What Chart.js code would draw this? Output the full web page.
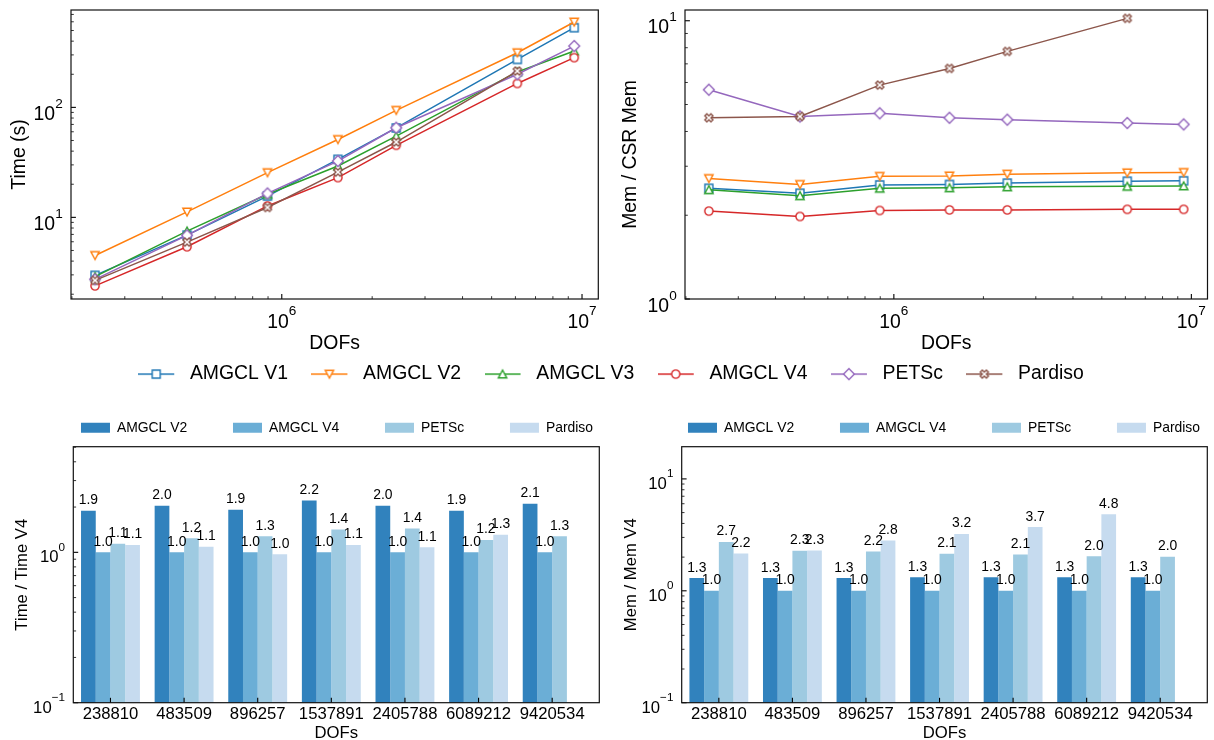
<!DOCTYPE html>
<html>
<head>
<meta charset="utf-8">
<title>AMGCL vs PETSc vs Pardiso</title>
<script src="https://cdn.jsdelivr.net/npm/chart.js@4.4.1/dist/chart.umd.min.js"></script>
<style>
  html, body { margin: 0; padding: 0; background: #fff; overflow: hidden; }
  #fig { position: relative; width: 1214px; height: 740px; overflow: hidden; background: #fff; }
  #fig canvas { position: absolute; }
</style>
</head>
<body>
<div id="fig">
  <canvas id="timeChart" width="610" height="360" style="left:0;top:0"></canvas>
  <canvas id="memChart" width="604" height="360" style="left:610px;top:0"></canvas>
  <canvas id="timeRatioChart" width="610" height="305" style="left:0;top:440px"></canvas>
  <canvas id="memRatioChart" width="604" height="305" style="left:610px;top:440px"></canvas>
  <canvas id="topLegend" width="1206" height="140" style="left:8px;top:341px"></canvas>
  <canvas id="timeRatioLegend" width="640" height="170" style="left:17px;top:375px"></canvas>
  <canvas id="memRatioLegend" width="640" height="170" style="left:624px;top:375px"></canvas>
</div>
<script>
// --- data ---
const dofs = [238810, 483509, 896257, 1537891, 2405788, 6089212, 9420534];
const dofLabels = dofs.map(String);

// solve time (s)
const timeV1 = [2.97, 6.9, 15.6, 33.7, 65.0, 273, 530];
const timeV2 = [4.5, 11.2, 25.5, 51.0, 94.0, 314, 597];
const timeV3 = [2.89, 7.5, 16.2, 29.3, 54.8, 210, 325];
const timeV4 = [2.38, 5.4, 12.7, 23.0, 45.2, 165, 283];
const timePetsc = [2.73, 6.86, 16.5, 32.5, 65.3, 200, 361];
const timePardiso = [2.67, 5.96, 12.3, 25.8, 48.4, 214, null];

// memory / CSR memory
const memV1 = [2.50, 2.40, 2.57, 2.58, 2.61, 2.65, 2.66];
const memV2 = [2.71, 2.58, 2.76, 2.77, 2.81, 2.84, 2.85];
const memV3 = [2.47, 2.35, 2.50, 2.51, 2.53, 2.54, 2.55];
const memV4 = [2.07, 1.98, 2.08, 2.09, 2.09, 2.10, 2.10];
const memPetsc = [5.65, 4.53, 4.65, 4.48, 4.41, 4.29, 4.24];
const memPardiso = [4.48, 4.53, 5.87, 6.74, 7.76, 10.2, null];

// ratios against AMGCL V4
const timeRatioV2 = [1.89, 2.04, 1.92, 2.21, 2.04, 1.89, 2.10];
const timeRatioV4 = [1, 1, 1, 1, 1, 1, 1];
const timeRatioPetsc = [1.14, 1.24, 1.28, 1.42, 1.44, 1.21, 1.28];
const timeRatioPardiso = [1.12, 1.09, 0.97, 1.12, 1.08, 1.31, null];
const memRatioV2 = [1.30, 1.30, 1.30, 1.32, 1.32, 1.32, 1.32];
const memRatioV4 = [1, 1, 1, 1, 1, 1, 1];
const memRatioPetsc = [2.73, 2.28, 2.24, 2.14, 2.11, 2.04, 2.02];
const memRatioPardiso = [2.16, 2.29, 2.82, 3.22, 3.71, 4.84, null];

const seriesNames = ['AMGCL V1', 'AMGCL V2', 'AMGCL V3', 'AMGCL V4', 'PETSc', 'Pardiso'];
const barNames = ['AMGCL V2', 'AMGCL V4', 'PETSc', 'Pardiso'];

// --- styles ---
const FONT = "'Liberation Sans', Arial, Helvetica, sans-serif";
const seriesColors = ['#1f77b4', '#ff7f0e', '#2ca02c', '#d62728', '#9467bd', '#8c564b'];
const seriesShapes = ['square', 'triDown', 'triUp', 'circle', 'diamond', 'xfill'];
const barColors = ['#3182bd', '#6baed6', '#9ecae1', '#c6dbef'];

Chart.defaults.font.family = FONT;
Chart.defaults.color = '#000';
Chart.defaults.animation = false;

function drawMarker(ctx, shape, x, y, color) {
    ctx.save();
    ctx.translate(x, y);
    ctx.beginPath();
    if (shape === 'square') {
        ctx.rect(-4, -4, 8, 8);
    } else if (shape === 'triDown') {
        ctx.moveTo(0, 4); ctx.lineTo(-4.2, -3.8); ctx.lineTo(4.2, -3.8); ctx.closePath();
    } else if (shape === 'triUp') {
        ctx.moveTo(0, -4); ctx.lineTo(-4.2, 3.8); ctx.lineTo(4.2, 3.8); ctx.closePath();
    } else if (shape === 'circle') {
        ctx.arc(0, 0, 4.1, 0, Math.PI * 2);
    } else if (shape === 'diamond') {
        ctx.moveTo(0, -5.4); ctx.lineTo(5.4, 0); ctx.lineTo(0, 5.4); ctx.lineTo(-5.4, 0); ctx.closePath();
    } else if (shape === 'xfill') {
        const a = 8.6 / 6, b = 8.6 / 2;
        const pts = [[-a, -b], [a, -b], [a, -a], [b, -a], [b, a], [a, a], [a, b], [-a, b], [-a, a], [-b, a], [-b, -a], [-a, -a]];
        ctx.rotate(Math.PI / 4);
        pts.forEach((p, i) => i ? ctx.lineTo(p[0], p[1]) : ctx.moveTo(p[0], p[1]));
        ctx.closePath();
    }
    ctx.fillStyle = '#fff';
    ctx.fill();
    ctx.lineWidth = 1.4;
    ctx.strokeStyle = color;
    ctx.stroke();
    ctx.restore();
}

const pointIcons = seriesShapes.map((shape, i) => {
    const c = document.createElement('canvas');
    c.width = 16; c.height = 16;
    drawMarker(c.getContext('2d'), shape, 8, 8, seriesColors[i]);
    return c;
});

const legendIcons = seriesShapes.map((shape, i) => {
    const c = document.createElement('canvas');
    c.width = 42; c.height = 18;
    const ctx = c.getContext('2d');
    ctx.strokeStyle = seriesColors[i];
    ctx.lineWidth = 1.5;
    ctx.beginPath(); ctx.moveTo(0, 9); ctx.lineTo(36, 9); ctx.stroke();
    drawMarker(ctx, shape, 18, 9, seriesColors[i]);
    return c;
});

// log ticks 1..9 x 10^k inside [min, max]
function logTicks(min, max) {
    const out = [];
    for (let e = Math.floor(Math.log10(min)); e <= Math.ceil(Math.log10(max)); e++) {
        for (let m = 1; m <= 9; m++) {
            const v = m * Math.pow(10, e);
            if (v >= min * 0.999999 && v <= max * 1.000001) out.push({ v, major: m === 1, exp: e });
        }
    }
    return out;
}

function drawPow(ctx, exp, x, yBase, ySup, o, align) {
    const base = '10';
    const sup = exp < 0 ? '\u2212' + (-exp) : String(exp);
    ctx.font = o.size + 'px ' + FONT;
    const wb = ctx.measureText(base).width;
    ctx.font = o.sup + 'px ' + FONT;
    const ws = ctx.measureText(sup).width;
    const left = align === 'right' ? x - wb - ws : x - (wb + ws) / 2;
    ctx.fillStyle = '#000';
    ctx.textAlign = 'left';
    ctx.textBaseline = 'alphabetic';
    ctx.font = o.size + 'px ' + FONT;
    ctx.fillText(base, left, yBase);
    ctx.font = o.sup + 'px ' + FONT;
    ctx.fillText(sup, left + wb, ySup);
}

// frame, inward ticks and 10^n labels (matplotlib look)
const axesDecor = {
    id: 'axesDecor',
    afterDraw(chart, args, o) {
        const { ctx, chartArea: a, scales } = chart;
        const xs = scales.x, ys = scales.y;
        ctx.save();
        ctx.strokeStyle = '#000';

        logTicks(ys.min, ys.max).forEach(t => {
            const py = ys.getPixelForValue(t.v);
            ctx.lineWidth = t.major ? 1.1 : 0.8;
            ctx.beginPath();
            ctx.moveTo(a.left, py);
            ctx.lineTo(a.left + (t.major ? 4.9 : 2.8), py);
            ctx.stroke();
            if (t.major) drawPow(ctx, t.exp, a.left - 8.3, py + o.yBase, py + o.ySup, o, 'right');
        });

        if (o.xMode === 'log') {
            logTicks(xs.min, xs.max).forEach(t => {
                const px = xs.getPixelForValue(t.v);
                ctx.lineWidth = t.major ? 1.1 : 0.8;
                ctx.beginPath();
                ctx.moveTo(px, a.bottom);
                ctx.lineTo(px, a.bottom - (t.major ? 4.9 : 2.8));
                ctx.stroke();
                if (t.major) drawPow(ctx, t.exp, px, a.bottom + o.xBase, a.bottom + o.xSup, o, 'center');
            });
        } else {
            ctx.font = o.size + 'px ' + FONT;
            ctx.fillStyle = '#000';
            ctx.textAlign = 'center';
            ctx.textBaseline = 'alphabetic';
            for (let i = Math.ceil(xs.min); i <= Math.floor(xs.max); i++) {
                const px = xs.getPixelForValue(i);
                ctx.lineWidth = 1.1;
                ctx.beginPath();
                ctx.moveTo(px, a.bottom);
                ctx.lineTo(px, a.bottom - 4.9);
                ctx.stroke();
                ctx.fillText(o.labels[i], px, a.bottom + o.xBase);
            }
        }

        ctx.lineWidth = 1.2;
        ctx.strokeStyle = '#111';
        ctx.strokeRect(a.left, a.top, a.right - a.left, a.bottom - a.top);
        ctx.restore();
    }
};

// value labels on top of the bars
const barValues = {
    id: 'barValues',
    afterDatasetsDraw(chart) {
        const { ctx } = chart;
        ctx.save();
        ctx.font = '13.9px ' + FONT;
        ctx.fillStyle = '#000';
        ctx.textAlign = 'center';
        ctx.textBaseline = 'alphabetic';
        chart.data.datasets.forEach((ds, di) => {
            chart.getDatasetMeta(di).data.forEach((bar, i) => {
                const v = ds.data[i].y;
                if (v === null || v === undefined) return;
                ctx.fillText(v.toFixed(1), bar.x, bar.y - 6.5);
            });
        });
        ctx.restore();
    }
};

const hiddenAxis = { ticks: { display: false }, grid: { display: false }, border: { display: false } };

function lineChart(id, values, yMin, yMax, yTitle, yWidth, padRight, yTitlePad) {
    return new Chart(document.getElementById(id), {
        type: 'line',
        data: {
            datasets: values.map((vals, i) => ({
                label: seriesNames[i],
                data: dofs.map((d, j) => ({ x: d, y: vals[j] })),
                borderColor: seriesColors[i],
                backgroundColor: seriesColors[i],
                borderWidth: 1.5,
                pointStyle: pointIcons[i],
                pointRadius: 5,
                pointHoverRadius: 5,
                tension: 0,
                order: values.length - i
            }))
        },
        options: {
            responsive: false,
            events: [],
            layout: { padding: { top: 10, right: padRight, left: 0, bottom: 0 } },
            plugins: {
                legend: { display: false },
                tooltip: { enabled: false },
                axesDecor: { xMode: 'log', size: 19.4, sup: 13.6, yBase: 12.6, ySup: 0.5, xBase: 29.3, xSup: 16 }
            },
            scales: {
                x: {
                    type: 'logarithmic', min: 198600, max: 11330000, bounds: 'data', ...hiddenAxis,
                    title: { display: true, text: 'DOFs', font: { size: 19.4 }, padding: { top: 0, bottom: 4.4 } },
                    afterFit: s => { s.height = 61; }
                },
                y: {
                    type: 'logarithmic', min: yMin, max: yMax, bounds: 'data', ...hiddenAxis,
                    title: { display: true, text: yTitle, font: { size: 19.4 }, padding: { top: yTitlePad, bottom: 0 } },
                    afterFit: s => { s.width = yWidth; }
                }
            }
        },
        plugins: [axesDecor]
    });
}

function barChart(id, values, yMax, yTitle, yWidth, padRight, yTitlePad) {
    return new Chart(document.getElementById(id), {
        type: 'bar',
        data: {
            datasets: values.map((vals, i) => ({
                label: barNames[i],
                data: dofLabels.map((_, j) => ({ x: j, y: vals[j] })),
                backgroundColor: barColors[i],
                borderWidth: 0,
                categoryPercentage: 0.8,
                barPercentage: 1.0
            }))
        },
        options: {
            responsive: false,
            events: [],
            layout: { padding: { top: 6.7, right: padRight, left: 0, bottom: 0 } },
            plugins: {
                legend: { display: false },
                tooltip: { enabled: false },
                axesDecor: { xMode: 'index', labels: dofLabels, size: 16.7, sup: 11.7, yBase: 10, ySup: -1.5, xBase: 16 }
            },
            scales: {
                x: {
                    type: 'linear', min: -0.505, max: 6.64, offset: false, bounds: 'data', ...hiddenAxis,
                    // one tick per DOF group, so the bar ruler spacing is one group
                    afterBuildTicks: s => { s.ticks = dofLabels.map((_, j) => ({ value: j })); },
                    title: { display: true, text: 'DOFs', font: { size: 16.7 }, padding: { top: 0, bottom: 2 } },
                    afterFit: s => { s.height = 42.3; }
                },
                y: {
                    type: 'logarithmic', min: 0.1, max: yMax, bounds: 'data', beginAtZero: false, ...hiddenAxis,
                    title: { display: true, text: yTitle, font: { size: 16.7 }, padding: { top: yTitlePad, bottom: 0 } },
                    afterFit: s => { s.width = yWidth; }
                }
            }
        },
        plugins: [axesDecor, barValues]
    });
}

// legend-only chart (no axes, no data drawn)
function legendChart(id, labels) {
    return new Chart(document.getElementById(id), {
        type: 'line',
        data: { datasets: [] },
        options: {
            responsive: false,
            events: [],
            scales: { x: { display: false }, y: { display: false } },
            plugins: {
                tooltip: { enabled: false },
                legend: { display: true, position: 'top', align: 'center', labels }
            }
        }
    });
}

lineChart('timeChart', [timeV1, timeV2, timeV3, timeV4, timePetsc, timePardiso], 1.81, 768, 'Time (s)', 71, 11.7, 7.6);
lineChart('memChart', [memV1, memV2, memV3, memV4, memPetsc, memPardiso], 1, 10.93, 'Mem / CSR Mem', 75, 2.3, 9.2);

barChart('timeRatioChart', [timeRatioV2, timeRatioV4, timeRatioPetsc, timeRatioPardiso], 5.04, 'Time / Time V4', 73.3, 10.7, 12.5);
barChart('memRatioChart', [memRatioV2, memRatioV4, memRatioPetsc, memRatioPardiso], 19.4, 'Mem / Mem V4', 71.7, 6.7, 11.7);

legendChart('topLegend', {
    usePointStyle: true,
    pointStyleWidth: 42,
    padding: 23.4,
    color: '#000',
    font: { size: 19.4 },
    generateLabels: () => seriesNames.map((name, i) => ({
        text: name, pointStyle: legendIcons[i],
        fillStyle: seriesColors[i], strokeStyle: seriesColors[i],
        fontColor: '#000', lineWidth: 0, hidden: false, datasetIndex: i
    }))
});

const barLegendLabels = {
    boxWidth: 29,
    boxHeight: 10,
    padding: 45.8,
    color: '#000',
    font: { size: 13.9 },
    generateLabels: () => barNames.map((name, i) => ({
        text: name, fillStyle: barColors[i], strokeStyle: barColors[i],
        fontColor: '#000', lineWidth: 0, hidden: false, datasetIndex: i
    }))
};
legendChart('timeRatioLegend', barLegendLabels);
legendChart('memRatioLegend', barLegendLabels);
</script>
</body>
</html>
